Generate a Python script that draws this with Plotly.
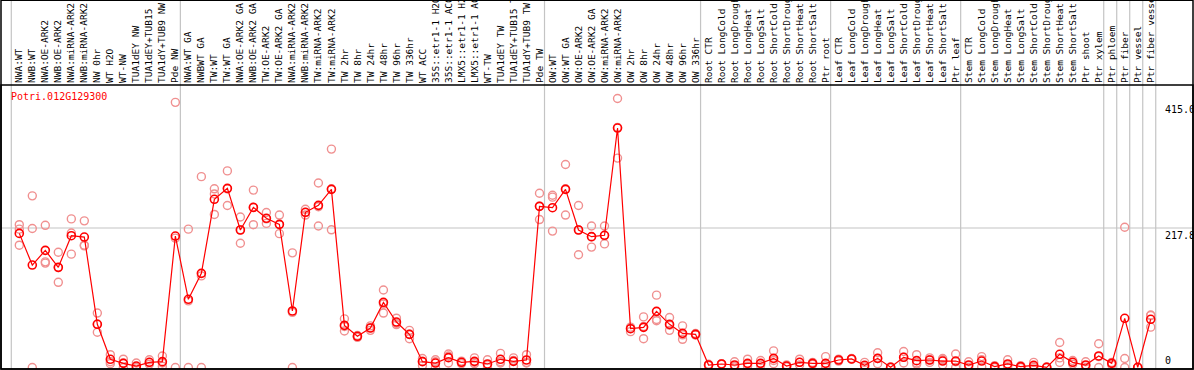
import plotly.graph_objects as go
import numpy as np

gene = "Potri.012G129300"

labels = [
    "NWA:WT", "NWB:WT", "NWA:OE-ARK2", "NWB:OE-ARK2", "NWA:miRNA-ARK2", "NWB:miRNA-ARK2",
    "NW 0hr", "WT H2O", "WT-NW", "TUA1dEY NW", "TUA1dEY+TUB15", "TUA1dY+TUB9 NW", "Pde NW",
    "NWA:WT GA", "NWBWT GA", "TW:WT", "TW:WT GA", "NWA:OE-ARK2 GA", "NWB:OE-ARK2 GA",
    "TW:OE-ARK2", "TW:OE-ARK2 GA", "NWA:miRNA-ARK2", "NWB:miRNA-ARK2", "TW:miRNA-ARK2",
    "TW:miRNA-ARK2", "TW 2hr", "TW 8hr", "TW 24hr", "TW 48hr", "TW 96hr", "TW 336hr",
    "WT ACC", "35S::etr1-1 H2O", "35S::etr1-1 ACC", "LMX5::etr1-1 H2O", "LMX5::etr1-1 ACC",
    "WT-TW", "TUA1dEY TW", "TUA1dEY+TUB15 TW", "TUA1dY+TUB9 TW", "Pde TW",
    "OW:WT", "OW:WT GA", "OW:OE-ARK2", "OW:OE-ARK2 GA", "OW:miRNA-ARK2", "OW:miRNA-ARK2",
    "OW 2hr", "OW 8hr", "OW 24hr", "OW 48hr", "OW 96hr", "OW 336hr",
    "Root CTR", "Root LongCold", "Root LongDrought", "Root LongHeat", "Root LongSalt",
    "Root ShortCold", "Root ShortDrought", "Root ShortHeat", "Root ShortSalt", "Ptr root",
    "Leaf CTR", "Leaf LongCold", "Leaf LongDrought", "Leaf LongHeat", "Leaf LongSalt",
    "Leaf ShortCold", "Leaf ShortDrought", "Leaf ShortHeat", "Leaf ShortSalt", "Ptr leaf",
    "Stem CTR", "Stem LongCold", "Stem LongDrought", "Stem LongHeat", "Stem LongSalt",
    "Stem ShortCold", "Stem ShortDrought", "Stem ShortHeat", "Stem ShortSalt", "Ptr shoot",
    "Ptr xylem", "Ptr phloem", "Ptr fiber", "Ptr vessel", "Ptr fiber vessel",
]

group_sizes = [13, 28, 12, 10, 10, 11, 1, 1, 1, 1]

means = [
    209.4, 160, 182.9, 156.4, 205.8, 203.7, 67.5, 12.8, 6.5, 2.3, 8.1, 9.1, 205.3,
    106.5, 147, 262.6, 279.7, 214.7, 250, 233, 223.5, 88.2, 242.3, 253.2, 278.2,
    65.8, 48.7, 61.7, 101.7, 71, 51.8, 9.1, 7, 15.4, 8.1, 9.6, 5.5, 12.8, 9.6, 11.7, 251.6,
    249.5, 278.2, 214.7, 204.3, 206.4, 373.9, 60.6, 62.7, 87.7, 67.4, 53.3, 51.8,
    3.9, 5.5, 3.9, 6.5, 6.5, 14.3, 2.3, 8.1, 6.5, 6.5,
    11.7, 13.3, 3.4, 14.3, 0.3, 15.9, 10.7, 11.7, 10.1, 10.1,
    3.9, 10.1, 1.3, 5.5, 1.3, 3.4, 0.3, 20.6, 8.1, 3.9, 18.0,
    6.5, 76.8, 0.3, 75.3,
]

rep_a = [
    223, 268, 222, 180, 232, 229, 85, 20, 13, 7, 12, 18, 414,
    216, 298, 279, 307, 235, 277, 242, 238, 179, 247, 288, 341,
    76, 50, 65, 121, 77, 58, 14, 12, 21, 10, 15, 12, 22, 15, 20, 272,
    269, 317, 253, 221, 221, 420, 63, 79, 113, 78, 65, 53,
    5, 6, 9, 13, 11, 26, 4, 13, 8, 17,
    13, 14, 8, 23, 1, 25, 20, 15, 14, 21,
    9, 17, 3, 12, 3, 8, 1, 39, 11, 9, 37,
    8, 219, 0, 82,
]
rep_b = [
    216, 217, 165, 156, 210, 191, 68, 9, 7, 0, 8, 7, 202,
    104, 143, 271, 279, 215, 250, 232, 223, 86, 242, 251, 279,
    64, 48, 62, 99, 69, 52, 10, 9, 18, 8, 8, 4, 9, 11, 8, 252,
    266, 279, 215, 204, 206, 375, 61, 64, 75, 66, 51, 51,
    4, 5, 2, 5, 6, 11, 2, 8, 6, 3,
    12, 13, 1, 14, 0, 16, 7, 12, 12, 9,
    3, 12, 1, 4, 1, 2, 0, 15, 8, 3, 17,
    7, 14, 0, 81,
]
rep_c = [
    191, 0, 163, 133, 177, 190, 55, 6, 0, 0, 5, 2, 0,
    0, 0, 239, 253, 194, 223, 225, 209, 0, 238, 221, 215,
    57, 47, 58, 85, 67, 45, 3, 0, 7, 6, 6, 0, 7, 2, 7, 231,
    213, 238, 176, 188, 193, 327, 56, 45, 73, 58, 44, 51,
    3, 5, 1, 2, 3, 6, 1, 4, 5, 0,
    10, 13, 1, 6, 0, 7, 5, 8, 4, 0,
    0, 1, 0, 1, 0, 0, 0, 8, 5, 0, 0,
    4, 0, 0, 63,
]

y_ticks = [0, 217.8, 415.0]
y_tick_text = ["0", "217.8", "415.0"]

n = len(labels)
idx = np.arange(n)

fig = go.Figure()

rep_x = np.concatenate([idx, idx, idx])
rep_y = np.concatenate([rep_a, rep_b, rep_c])
fig.add_trace(go.Scatter(
    x=rep_x, y=rep_y, mode="markers",
    marker=dict(symbol="circle-open", size=8, color="#f09090", line=dict(width=1.4, color="#f09090")),
    hoverinfo="skip", showlegend=False,
))
fig.add_trace(go.Scatter(
    x=idx, y=means, mode="lines+markers",
    line=dict(color="#ff0000", width=1.2),
    marker=dict(symbol="circle-open", size=8, color="#ff0000", line=dict(width=1.6, color="#ff0000")),
    showlegend=False,
))

# group separator lines
bounds = np.cumsum(group_sizes) - 1
sep_pos = [-1] + list(bounds)
shapes = []
for b in sep_pos:
    shapes.append(dict(type="line", xref="x", yref="paper", x0=b + 0.385, x1=b + 0.385,
                       y0=0, y1=1.5, line=dict(color="#c4c4c4", width=1.2), layer="below"))
# horizontal grid at middle tick
shapes.append(dict(type="line", xref="paper", yref="y", x0=0, x1=1, y0=217.8, y1=217.8,
                   line=dict(color="#c4c4c4", width=1.2), layer="below"))
# frames
shapes.append(dict(type="rect", xref="paper", yref="paper", x0=0, x1=1, y0=0, y1=1,
                   line=dict(color="black", width=1.5)))
shapes.append(dict(type="rect", xref="paper", yref="paper", x0=0, x1=1, y0=0, y1=1 + 85 / 284 - 0.001,
                   line=dict(color="black", width=1.5)))

annotations = [dict(text=gene, xref="paper", yref="paper", x=0.007, y=1, xanchor="left", yanchor="top",
                    yshift=-4, showarrow=False,
                    font=dict(family="DejaVu Sans Mono", size=10, color="#ff0000"))]
for v, t in zip(y_ticks, y_tick_text):
    annotations.append(dict(text=t, xref="paper", yref="y", x=0.9751, y=v, xanchor="left",
                            yanchor="bottom" if v == 0 else "top", showarrow=False,
                            font=dict(family="DejaVu Sans Mono", size=10, color="black")))

fig.update_layout(
    width=1194, height=370,
    margin=dict(l=1, r=1, t=85, b=1, pad=0),
    paper_bgcolor="white", plot_bgcolor="white",
    shapes=shapes, annotations=annotations,
    xaxis=dict(range=[-1.407, 90.25], side="top", tickmode="array", tickvals=idx, ticktext=labels,
               tickangle=-90, showgrid=False, zeroline=False, ticks="", automargin=False,
               ticklabelstandoff=1,
               tickfont=dict(family="DejaVu Sans Mono", size=9.5, color="black")),
    yaxis=dict(range=[-2.34, 441.1], showgrid=False, zeroline=False, showticklabels=False,
               ticks="", automargin=False),
)

fig.write_html("out.html", config={"displayModeBar": False},
               post_script="document.body.style.margin='0';document.body.style.overflow='hidden';")
